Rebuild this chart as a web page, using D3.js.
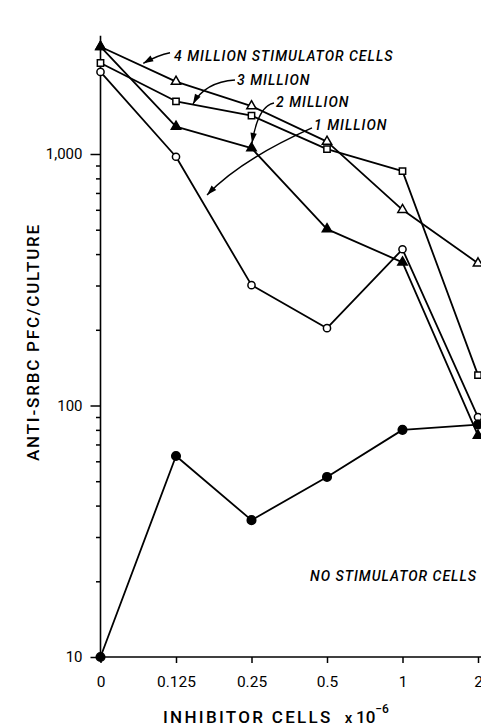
<!DOCTYPE html>
<html><head><meta charset="utf-8">
<script src="https://cdn.jsdelivr.net/npm/d3@7"></script>
<style>body{margin:0;background:#fff;overflow:hidden}</style>
</head><body><svg id="c" width="481" height="726"></svg>
<script>
// ---- data ----
const categories = ["0", "0.125", "0.25", "0.5", "1", "2"];
const stim4M   = [2670, 1940, 1550, 1120, 600, 368];
const stim3M   = [2300, 1620, 1420, 1045, 855, 132];
const stim2M   = [2670, 1285, 1055, 503, 371, 76];
const stim1M   = [2120, 975, 301, 203, 418, 90];
const stimNone = [10, 63, 35, 52, 80, 84];
const yMajorTicks = [10, 100, 1000];
const yMajorLabels = ["10", "100", "1,000"];
const yMinorTicks = [20,30,40,50,60,70,80,90,200,300,400,500,600,700,800,900];
const yLabel = "ANTI-SRBC PFC/CULTURE";
const xLabel = "INHIBITOR CELLS";
// annotations in data units (category index, value)
const annoTexts = ["4 MILLION STIMULATOR CELLS", "3 MILLION", "2 MILLION", "1 MILLION", "NO STIMULATOR CELLS"];
const annoAt = [[0.974, 2344], [1.808, 1881], [2.325, 1538], [2.828, 1246], [2.775, 20]];
const annoArrows = [
  [[0.921, 2528], [0.762, 2475], [0.567, 2294]],
  [[1.781, 1969], [1.384, 1933], [1.225, 1581]],
  [[2.298, 1595], [2.086, 1552], [2.007, 1106]],
  [[2.801, 1269], [1.848, 946], [1.411, 687]]
];

const svg = d3.select("#c");
const x = d3.scaleLinear().domain([0, categories.length - 1]).range([100.5, 478]);
const y = d3.scaleLog().domain([10, 1000]).range([657, 154]);

const FONT = "Roboto, 'DejaVu Sans', sans-serif";

// axes
const gy = svg.append("g").attr("transform", "translate(100.5,0)");
gy.call(d3.axisLeft(y).tickValues(yMajorTicks).tickSize(10).tickPadding(8)
  .tickFormat((d, i) => yMajorLabels[i]));
gy.selectAll("text").attr("font-family", FONT).attr("font-size", 15);
gy.select(".domain").remove();
const gyMinor = svg.append("g").attr("transform", "translate(100.5,0)");
gyMinor.call(d3.axisLeft(y).tickValues(yMinorTicks).tickSize(4.5).tickFormat(""));
gyMinor.select(".domain").remove();
svg.append("line").attr("x1", 100.5).attr("x2", 100.5)
  .attr("y1", y(10)).attr("y2", y(2950)).attr("stroke", "#000").attr("stroke-width", 1.6);
svg.selectAll(".tick line").attr("stroke-width", 1.5);

const gx = svg.append("g").attr("transform", `translate(0,${y(10)})`);
gx.call(d3.axisBottom(x).tickValues(d3.range(categories.length)).tickSize(6)
  .tickFormat(i => categories[i]).tickPadding(13));
gx.selectAll("text").attr("font-family", FONT).attr("font-size", 15.5);
gx.select(".domain").remove();
gx.selectAll(".tick line").attr("stroke-width", 1.5);
svg.append("line").attr("x1", 100.5).attr("x2", 481)
  .attr("y1", y(10)).attr("y2", y(10)).attr("stroke", "#000").attr("stroke-width", 1.6);

// axis titles
const xt = svg.append("text").attr("x", 163).attr("y", 723)
  .attr("font-family", FONT).attr("font-size", 17).attr("letter-spacing", 2.3)
  .attr("font-weight", 500);
xt.append("tspan").text(xLabel);
xt.append("tspan").attr("dx", 12).attr("letter-spacing", 0).attr("font-size", 15).text("x ");
xt.append("tspan").attr("letter-spacing", 0).text("10");
xt.append("tspan").attr("dy", -10).attr("font-size", 12).attr("letter-spacing", 0).text("−6");

svg.append("text").attr("transform", "translate(39,342) rotate(-90)")
  .attr("text-anchor", "middle").attr("font-family", FONT).attr("font-size", 17)
  .attr("font-weight", 500).attr("letter-spacing", 1.8).text(yLabel);

// series
const series = [
  {vals: stim4M, sym: "tri", fill: "#fff"},
  {vals: stim3M, sym: "sq", fill: "#fff"},
  {vals: stim1M, sym: "circ", fill: "#fff"},
  {vals: stim2M, sym: "tri", fill: "#000"},
  {vals: stimNone, sym: "circ", fill: "#000"}
];
const line = d3.line().x((d, i) => x(i)).y(d => y(d));
series.forEach(s => {
  svg.append("path").attr("d", line(s.vals)).attr("fill", "none")
    .attr("stroke", "#000").attr("stroke-width", 1.8).attr("stroke-linejoin", "round");
});
series.forEach(s => {
  const g = svg.append("g");
  s.vals.forEach((v, i) => {
    if (s.sym === "circ") {
      g.append("circle").attr("cx", x(i)).attr("cy", y(v))
        .attr("r", s.fill === "#000" ? 4.3 : 3.6)
        .attr("fill", s.fill).attr("stroke", "#000").attr("stroke-width", 1.5);
    } else {
      const type = s.sym === "tri" ? d3.symbolTriangle : d3.symbolSquare;
      const size = s.sym === "tri" ? 38 : 40;
      g.append("path").attr("d", d3.symbol().type(type).size(size)())
        .attr("transform", `translate(${x(i)},${y(v)})`)
        .attr("fill", s.fill).attr("stroke", "#000").attr("stroke-width", 1.5);
    }
  });
});

// annotations
annoTexts.forEach((t, i) => {
  svg.append("text").attr("x", x(annoAt[i][0])).attr("y", y(annoAt[i][1]))
    .attr("font-family", FONT).attr("font-size", 14).attr("font-style", "italic")
    .attr("font-weight", 500).attr("letter-spacing", 1).text(t);
});
annoArrows.forEach(a => {
  const p = a.map(d => [x(d[0]), y(d[1])]);
  const path = d3.path();
  path.moveTo(p[0][0], p[0][1]);
  path.quadraticCurveTo(p[1][0], p[1][1], p[2][0], p[2][1]);
  svg.append("path").attr("d", path.toString()).attr("fill", "none")
    .attr("stroke", "#000").attr("stroke-width", 1.4);
  const ang = Math.atan2(p[2][1] - p[1][1], p[2][0] - p[1][0]);
  const L = 10, W = 3.2;
  const bx = p[2][0] - L * Math.cos(ang), by = p[2][1] - L * Math.sin(ang);
  const pts = [[p[2][0], p[2][1]],
    [bx + W * Math.sin(ang), by - W * Math.cos(ang)],
    [bx - W * Math.sin(ang), by + W * Math.cos(ang)]];
  svg.append("path").attr("d", d3.line()(pts) + "Z").attr("fill", "#000");
});
</script>
</body></html>
